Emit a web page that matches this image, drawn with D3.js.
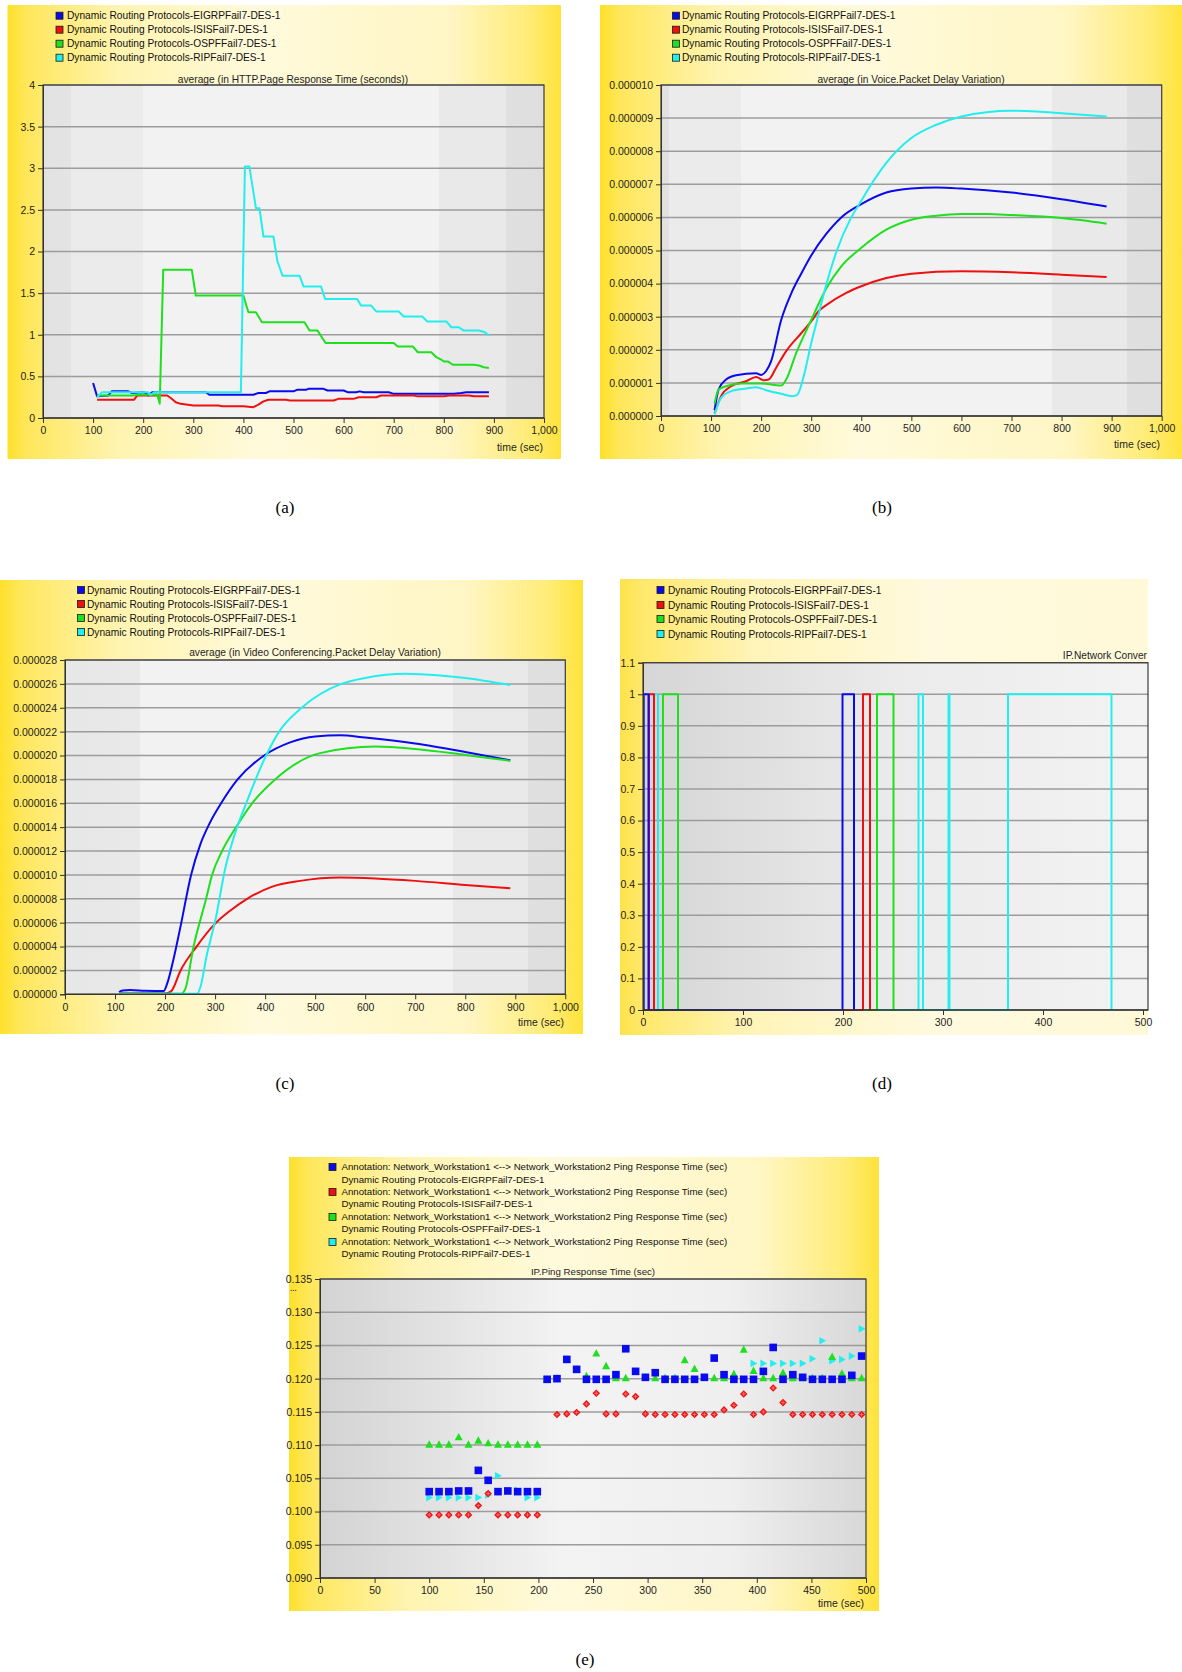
<!DOCTYPE html>
<html>
<head>
<meta charset="utf-8">
<script src="https://cdn.jsdelivr.net/npm/d3@7"></script>
<style>
body { margin: 0; background: #fff; }
text { font-family: "Liberation Sans", Arial, sans-serif; }
.caption { font-family: "Liberation Serif", "Times New Roman", serif; }
</style>
</head>
<body>
<svg id="fig" width="1182" height="1672"></svg>
<script>
// ---------- data ----------
var runNames = ["Dynamic Routing Protocols-EIGRPFail7-DES-1",
                "Dynamic Routing Protocols-ISISFail7-DES-1",
                "Dynamic Routing Protocols-OSPFFail7-DES-1",
                "Dynamic Routing Protocols-RIPFail7-DES-1"];
var pingLabel = "Annotation: Network_Workstation1 <--> Network_Workstation2 Ping Response Time (sec)";
var colors = ["#0a0aee", "#ee1010", "#1ee01e", "#22eeee"];

// (a) HTTP page response time (s)
var httpEigrp = [[100,0.42],[108,0.26],[130,0.27],[137,0.32],[170,0.32],[178,0.30],[200,0.31],[205,0.30],[210,0.27],[218,0.31],[325,0.31],[332,0.28],[420,0.28],[430,0.30],[445,0.30],[452,0.32],[500,0.32],[508,0.34],[525,0.34],[530,0.35],[560,0.35],[568,0.33],[600,0.33],[608,0.31],[625,0.31],[632,0.32],[640,0.31],[690,0.31],[700,0.29],[820,0.29],[835,0.30],[845,0.31],[890,0.31]];
var httpIsis = [[108,0.22],[182,0.22],[188,0.27],[248,0.27],[255,0.24],[265,0.19],[275,0.17],[300,0.15],[350,0.15],[358,0.14],[400,0.14],[420,0.13],[430,0.16],[440,0.20],[450,0.22],[485,0.22],[493,0.21],[580,0.21],[590,0.23],[620,0.23],[630,0.25],[665,0.25],[675,0.27],[740,0.27],[748,0.26],[800,0.26],[810,0.27],[850,0.27],[860,0.26],[890,0.26]];
var httpOspf = [[108,0.27],[180,0.27],[190,0.28],[228,0.28],[233,0.17],[240,1.78],[297,1.78],[305,1.47],[400,1.47],[410,1.27],[425,1.27],[437,1.15],[522,1.15],[532,1.05],[548,1.05],[564,0.90],[700,0.90],[708,0.86],[738,0.86],[748,0.79],[775,0.79],[785,0.73],[795,0.70],[800,0.68],[808,0.68],[818,0.64],[860,0.64],[870,0.63],[880,0.61],[890,0.60]];
var httpRip = [[108,0.25],[118,0.31],[210,0.31],[215,0.28],[222,0.31],[395,0.31],[403,3.02],[412,3.02],[425,2.52],[432,2.52],[440,2.18],[460,2.18],[468,1.88],[478,1.71],[512,1.71],[520,1.58],[555,1.58],[563,1.43],[627,1.43],[635,1.35],[655,1.35],[665,1.28],[710,1.28],[720,1.22],[757,1.22],[767,1.16],[805,1.16],[815,1.09],[830,1.09],[840,1.05],[870,1.05],[882,1.03],[890,0.99]];

// (b) voice packet delay variation (values in 1e-6)
var voiceEigrp = [[107,0.18],[115,0.8],[130,1.1],[150,1.23],[190,1.29],[200,1.24],[210,1.36],[220,1.66],[240,2.9],[260,3.7],[280,4.3],[300,4.85],[330,5.5],[360,6.0],[400,6.4],[450,6.75],[500,6.87],[550,6.9],[600,6.87],[700,6.75],[800,6.55],[890,6.33]];
var voiceIsis = [[107,0.08],[120,0.6],[140,0.9],[170,1.05],[190,1.18],[205,1.08],[215,1.1],[230,1.46],[250,1.96],[280,2.5],[300,2.86],[317,3.2],[330,3.35],[370,3.72],[400,3.92],[450,4.17],[500,4.3],[600,4.37],[700,4.34],[800,4.27],[890,4.2]];
var voiceOspf = [[107,0.38],[115,0.8],[130,0.9],[160,0.98],[200,0.98],[240,0.92],[250,1.1],[270,1.9],[300,2.9],[330,3.85],[360,4.52],[400,5.08],[450,5.63],[500,5.93],[550,6.05],[600,6.1],[650,6.1],[700,6.07],[800,5.98],[890,5.81]];
var voiceRip = [[107,0.05],[120,0.55],[140,0.75],[170,0.83],[190,0.87],[210,0.78],[240,0.67],[262,0.6],[272,0.64],[285,1.2],[300,2.2],[317,3.2],[327,3.8],[350,4.95],[380,6.0],[400,6.5],[420,7.0],[450,7.65],[500,8.4],[550,8.8],[600,9.05],[650,9.18],[700,9.22],[750,9.2],[800,9.15],[890,9.05]];

// (c) video conferencing packet delay variation (values in 1e-6)
var videoEigrp = [[108,0.17],[115,0.32],[130,0.36],[160,0.3],[197,0.27],[205,1.0],[215,2.6],[230,5.5],[252,10],[270,12.5],[290,14.4],[312,16],[345,18],[398,20],[450,21.1],[500,21.6],[550,21.7],[600,21.5],[700,21.0],[800,20.3],[890,19.6]];
var videoIsis = [[108,0.08],[200,0.08],[212,0.25],[231,2],[263,4],[302,6],[330,7],[364,8],[413,9],[470,9.5],[550,9.78],[620,9.7],[700,9.5],[800,9.16],[890,8.88]];
var videoOspf = [[108,0.05],[232,0.05],[240,0.4],[257,4],[282,8],[294,10],[314,12],[342,14],[374,16],[420,18],[510,20.2],[620,20.75],[700,20.55],[800,20.05],[890,19.55]];
var videoRip = [[108,0.05],[264,0.05],[272,0.8],[282,3],[302,6.5],[320,10.5],[340,13.5],[364,16.2],[402,20],[428,22],[473,24],[552,26],[600,26.5],[680,26.85],[750,26.7],[800,26.5],[890,25.9]];

// (d) IP network convergence activity (step changes)
var convEigrp = [[0,0],[0.7,1],[5.5,0],[199.5,1],[211,0],[212,0]];
var convIsis = [[0,0],[6,1],[11,0],[220,1],[227,0],[228,0]];
var convOspf = [[0,0],[20,1],[35,0],[234,1],[250.5,0],[252,0]];
var convRip = [[0,0],[11,1],[15,0],[275.5,1],[280,0],[305.5,1],[306.5,0],[365,1],[468.5,0],[470,0]];

// (e) IP ping response time (s)
var pingTimes = [100,109,118,127,136,145,154,163,172,181,190,199,208,217,226,235,244,253,262,271,280,289,298,307,316,325,334,343,352,361,370,379,388,397,406,415,424,433,442,451,460,469,478,487,496];
var pingEigrp = [0.1030,0.1030,0.1030,0.1031,0.1031,0.1062,0.1047,0.1030,0.1031,0.1030,0.1030,0.1030,
                 0.1199,0.1200,0.1229,0.1214,0.1199,0.1199,0.1199,0.1206,0.1245,0.1211,0.1202,0.1209,0.1199,0.1199,0.1199,0.1199,0.1202,0.1231,0.1206,0.1199,0.1199,0.1199,0.1211,0.1247,0.1199,0.1206,0.1202,0.1199,0.1199,0.1199,0.1199,0.1205,0.1234];
var pingIsis = [0.0995,0.0995,0.0995,0.0995,0.0995,0.1009,0.1027,0.0995,0.0995,0.0995,0.0995,0.0995,
                null,0.1146,0.1147,0.1149,0.1162,0.1178,0.1147,0.1147,0.1177,0.1173,0.1147,0.1146,0.1146,0.1146,0.1146,0.1146,0.1146,0.1146,0.1153,0.1160,0.1177,0.1146,0.1150,0.1186,0.1164,0.1146,0.1146,0.1146,0.1146,0.1146,0.1146,0.1146,0.1146];
var pingOspf = [0.1101,0.1101,0.1101,0.1112,0.1101,0.1107,0.1103,0.1101,0.1101,0.1101,0.1101,0.1101,
                0.1199,0.1200,0.1229,0.1214,0.1204,0.1238,0.1219,0.1201,0.1201,0.1211,0.1202,0.1201,0.1201,0.1201,0.1228,0.1215,0.1202,0.1201,0.1201,0.1207,0.1244,0.1212,0.1201,0.1201,0.1209,0.1201,0.1201,0.1201,0.1201,0.1233,0.1208,0.1201,0.1201];
var pingRip = [0.1021,0.1021,0.1021,0.1021,0.1021,0.1021,0.1025,0.1054,0.1031,0.1032,0.1021,0.1021,
               0.1199,0.1200,0.1229,0.1214,0.1199,0.1199,0.1199,0.1206,0.1245,0.1211,0.1202,0.1209,0.1199,0.1199,0.1199,0.1199,0.1202,0.1231,0.1206,0.1199,0.1199,0.1223,0.1223,0.1223,0.1223,0.1223,0.1223,0.1230,0.1257,0.1227,0.1229,0.1234,0.1275];

var captions = ["(a)", "(b)", "(c)", "(d)", "(e)"];

// ---------- drawing ----------
var svg = d3.select("#fig");
var defs = svg.append("defs");

function grad(id, stops) {
  var lg = defs.append("linearGradient").attr("id", id)
      .attr("x1", 0).attr("x2", 1).attr("y1", 0).attr("y2", 0);
  stops.forEach(function(s) {
    lg.append("stop").attr("offset", s[0]).attr("stop-color", s[1]);
  });
}

grad("yel", [[0,"#ffe02a"],[0.035,"#ffe75c"],[0.2,"#fff4b0"],[0.45,"#fffadc"],[0.8,"#fff6c4"],[0.94,"#ffec78"],[1,"#ffe33a"]]);
grad("yelD", [[0,"#ffe24a"],[0.04,"#ffe86a"],[0.25,"#fff4b8"],[0.6,"#fffadf"],[1,"#fff9d8"]]);
grad("bandA", [[0,"#e2e2e2"],[0.055,"#e4e4e4"],[0.055,"#ebebeb"],[0.2,"#ebebeb"],[0.2,"#f2f2f2"],[0.79,"#f2f2f2"],[0.79,"#e9e9e9"],[0.925,"#e9e9e9"],[0.925,"#e0e0e0"],[1,"#dedede"]]);
grad("bandB", [[0,"#e0e0e0"],[0.015,"#e2e2e2"],[0.015,"#ebebeb"],[0.16,"#ebebeb"],[0.16,"#f2f2f2"],[0.78,"#f2f2f2"],[0.78,"#e9e9e9"],[0.93,"#e9e9e9"],[0.93,"#e0e0e0"],[1,"#dedede"]]);
grad("bandC", [[0,"#e7e7e7"],[0.15,"#e9e9e9"],[0.15,"#f2f2f2"],[0.775,"#f2f2f2"],[0.775,"#e9e9e9"],[0.925,"#e9e9e9"],[0.925,"#e0e0e0"],[1,"#dedede"]]);
grad("bandD", [[0,"#d6d6d6"],[0.5,"#ebebeb"],[1,"#f3f3f3"]]);
grad("bandE", [[0,"#d3d3d3"],[0.45,"#f3f3f3"],[0.75,"#efefef"],[1,"#d8d8d8"]]);

function panel(o) {
  var g = svg.append("g");
  var fs = o.fontSize || "10.2px";
  g.append("rect").attr("x", o.bx).attr("y", o.by).attr("width", o.bw).attr("height", o.bh)
      .attr("fill", "url(#" + o.bg + ")");

  var x = d3.scaleLinear().domain(o.xd).range([o.x0, o.x1]);
  var y = d3.scaleLinear().domain(o.yd).range([o.y1, o.y0]);
  var right = o.pr || o.x1;

  g.append("rect").attr("x", o.x0).attr("y", o.y0).attr("width", right - o.x0).attr("height", o.y1 - o.y0)
      .attr("fill", "url(#" + o.band + ")");

  // horizontal grid
  g.append("g").selectAll("line").data(o.yt).enter().append("line")
      .attr("x1", o.x0).attr("x2", right)
      .attr("y1", function(d) { return y(d); }).attr("y2", function(d) { return y(d); })
      .attr("stroke", "#9c9c9c").attr("stroke-width", 1.5);

  var clipId = "clip" + o.id;
  defs.append("clipPath").attr("id", clipId).append("rect")
      .attr("x", o.x0).attr("y", o.y0 - 4).attr("width", right - o.x0).attr("height", o.y1 - o.y0 + 6);

  var plot = g.append("g").attr("clip-path", "url(#" + clipId + ")");
  if (o.draw) o.draw(plot, x, y);

  // frame
  g.append("rect").attr("x", o.x0).attr("y", o.y0).attr("width", right - o.x0).attr("height", o.y1 - o.y0)
      .attr("fill", "none").attr("stroke", "#3a3a3a").attr("stroke-width", 1.2);

  var ax = g.append("g").attr("transform", "translate(0," + o.y1 + ")")
      .call(d3.axisBottom(x).tickValues(o.xt).tickFormat(o.xf).tickSize(5).tickPadding(4));
  var ay = g.append("g").attr("transform", "translate(" + o.x0 + ",0)")
      .call(d3.axisLeft(y).tickValues(o.yt).tickFormat(o.yf).tickSize(5).tickPadding(3));
  [ax, ay].forEach(function(a) {
    a.select(".domain").attr("stroke", "#333");
    a.selectAll(".tick line").attr("stroke", "#333");
    a.selectAll("text").attr("fill", "#1e1e1e").style("font-size", "10.5px")
        .style("font-family", '"Liberation Sans", Arial, sans-serif');
  });
  ax.select(".domain").attr("d", "M" + o.x0 + ",0H" + right);

  if (o.timeLabel) {
    g.append("text").attr("x", o.timeLabel[0]).attr("y", o.timeLabel[1]).attr("dy", "0.35em")
        .attr("text-anchor", "end").style("font-size", "10.5px").attr("fill", "#1e1e1e").text("time (sec)");
  }

  // title
  g.append("text")
      .attr("x", o.title[1]).attr("y", o.title[2]).attr("dy", "0.35em")
      .attr("text-anchor", o.title[3] || "middle")
      .style("font-size", fs).attr("fill", "#1e1e1e").text(o.title[0]);

  // legend
  var lg = g.append("g");
  o.legend.forEach(function(row, i) {
    var cy = o.legendY[i];
    if (row.color) {
      lg.append("rect").attr("x", o.legendX).attr("y", cy - 3.5).attr("width", 7).attr("height", 7)
          .attr("fill", row.color).attr("stroke", "#1a1a1a").attr("stroke-width", 0.8);
    }
    lg.append("text").attr("x", o.legendTx).attr("y", cy).attr("dy", "0.35em")
        .style("font-size", fs).attr("fill", "#111").text(row.text);
  });
}

function drawLines(list, curve) {
  return function(plot, x, y) {
    var line = d3.line().curve(curve)
        .x(function(d) { return x(d[0]); })
        .y(function(d) { return y(d[1]); });
    list.forEach(function(s) {
      plot.append("path").datum(s.data).attr("d", line)
          .attr("fill", "none").attr("stroke", s.color).attr("stroke-width", 2)
          .attr("stroke-linejoin", "round");
    });
  };
}

var runLegend = runNames.map(function(n, i) { return {text: n, color: colors[i]}; });
var legY1 = [15.7, 29.7, 43.7, 57.7];
var micro = function(d) { return d3.format(".6f")(d * 1e-6); };

// (a)
panel({
  id: "a", bx: 7.5, by: 5, bw: 553.5, bh: 454, bg: "yel", band: "bandA",
  x0: 43, x1: 544, y0: 85, y1: 418, xd: [0, 1000], yd: [0, 4],
  xt: d3.range(0, 1001, 100), xf: d3.format(","), yt: [0,0.5,1,1.5,2,2.5,3,3.5,4], yf: function(d) { return String(d); },
  timeLabel: [543, 447],
  title: ["average (in HTTP.Page Response Time (seconds))", 293, 79],
  legend: runLegend, legendX: 56, legendTx: 67, legendY: legY1,
  draw: drawLines([
    {data: httpEigrp, color: colors[0]}, {data: httpIsis, color: colors[1]},
    {data: httpOspf, color: colors[2]}, {data: httpRip, color: colors[3]}], d3.curveLinear)
});

// (b)
panel({
  id: "b", bx: 600, by: 5, bw: 582, bh: 454, bg: "yel", band: "bandB",
  x0: 661, x1: 1161.7, y0: 85, y1: 416, xd: [0, 1000], yd: [0, 10],
  xt: d3.range(0, 1001, 100), xf: d3.format(","), yt: d3.range(0, 11, 1), yf: micro,
  timeLabel: [1160, 444],
  title: ["average (in Voice.Packet Delay Variation)", 911, 79],
  legend: runLegend, legendX: 672.5, legendTx: 682, legendY: legY1,
  draw: drawLines([
    {data: voiceEigrp, color: colors[0]}, {data: voiceIsis, color: colors[1]},
    {data: voiceOspf, color: colors[2]}, {data: voiceRip, color: colors[3]}], d3.curveMonotoneX)
});

// (c)
panel({
  id: "c", bx: 0, by: 580, bw: 583, bh: 454, bg: "yel", band: "bandC",
  x0: 65, x1: 565.3, y0: 660, y1: 994.3, xd: [0, 1000], yd: [0, 28],
  xt: d3.range(0, 1001, 100), xf: d3.format(","), yt: d3.range(0, 29, 2), yf: micro,
  timeLabel: [564, 1022],
  title: ["average (in Video Conferencing.Packet Delay Variation)", 315, 652],
  legend: runLegend, legendX: 77.5, legendTx: 87, legendY: [590, 604, 618, 632],
  draw: drawLines([
    {data: videoEigrp, color: colors[0]}, {data: videoIsis, color: colors[1]},
    {data: videoOspf, color: colors[2]}, {data: videoRip, color: colors[3]}], d3.curveMonotoneX)
});

// (d) - title is cut by the panel edge in the original, only its visible part is shown
panel({
  id: "d", bx: 620, by: 579, bw: 528, bh: 456, bg: "yelD", band: "bandD",
  x0: 643, x1: 1143, pr: 1148, y0: 662.7, y1: 1010, xd: [0, 500], yd: [0, 1.1],
  xt: d3.range(0, 501, 100), xf: d3.format("d"), yt: d3.range(0, 12).map(function(i) { return i / 10; }),
  yf: function(d) { return String(d); },
  title: ["IP.Network Conver", 1147, 655, "end"],
  legend: runLegend, legendX: 657, legendTx: 668, legendY: [590, 605, 619, 634],
  draw: drawLines([
    {data: convRip, color: colors[3]}, {data: convOspf, color: colors[2]},
    {data: convIsis, color: colors[1]}, {data: convEigrp, color: colors[0]}], d3.curveStepAfter)
});

// (e)
var pingLegend = [];
runNames.forEach(function(n, i) {
  pingLegend.push({text: pingLabel, color: colors[i]});
  pingLegend.push({text: n});
});
panel({
  id: "e", bx: 289, by: 1157, bw: 590, bh: 454, bg: "yel", band: "bandE", fontSize: "9.7px",
  x0: 320, x1: 866, y0: 1279, y1: 1578, xd: [0, 500], yd: [0.090, 0.135],
  xt: d3.range(0, 501, 50), xf: d3.format("d"),
  yt: d3.range(0, 10).map(function(i) { return 0.090 + i * 0.005; }), yf: d3.format(".3f"),
  timeLabel: [864, 1603],
  title: ["IP.Ping Response Time (sec)", 593, 1272],
  legend: pingLegend, legendX: 329, legendTx: 341.5, legendY: [1167, 1180, 1192, 1204, 1217, 1229, 1242, 1254],
  draw: function(plot, x, y) {
    function pts(vals) {
      return vals.map(function(v, i) { return [pingTimes[i], v]; }).filter(function(d) { return d[1] != null; });
    }
    // cyan right-pointing triangles
    plot.append("g").selectAll("path").data(pts(pingRip)).enter().append("path")
        .attr("d", function(d) { var cx = x(d[0]), cy = y(d[1]);
          return "M" + (cx - 3) + "," + (cy - 3.8) + "L" + (cx + 3.8) + "," + cy + "L" + (cx - 3) + "," + (cy + 3.8) + "Z"; })
        .attr("fill", colors[3]);
    // green triangles
    plot.append("g").selectAll("path").data(pts(pingOspf)).enter().append("path")
        .attr("d", function(d) { var cx = x(d[0]), cy = y(d[1]);
          return "M" + cx + "," + (cy - 4.2) + "L" + (cx + 4) + "," + (cy + 3.2) + "L" + (cx - 4) + "," + (cy + 3.2) + "Z"; })
        .attr("fill", colors[2]);
    // red diamonds
    var red = plot.append("g").selectAll("g").data(pts(pingIsis)).enter().append("g")
        .attr("transform", function(d) { return "translate(" + x(d[0]) + "," + y(d[1]) + ")"; });
    red.append("path").attr("d", "M0,-3.8L3.8,0L0,3.8L-3.8,0Z").attr("fill", colors[1]);
    red.append("path").attr("d", "M-2,0H2M0,-2V2").attr("stroke", "#ff8080").attr("stroke-width", 0.8);
    // blue squares
    plot.append("g").selectAll("rect").data(pts(pingEigrp)).enter().append("rect")
        .attr("x", function(d) { return x(d[0]) - 3.8; })
        .attr("y", function(d) { return y(d[1]) - 3.8; })
        .attr("width", 7.6).attr("height", 7.6).attr("fill", colors[0]);
  }
});
svg.append("text").attr("x", 290).attr("y", 1291).style("font-size", "8px").style("font-weight", "bold")
    .attr("fill", "#444").text("...");

// captions
var capPos = [[285, 507], [882, 507], [285, 1083], [882, 1083], [585, 1659]];
captions.forEach(function(c, i) {
  svg.append("text").attr("class", "caption").attr("x", capPos[i][0]).attr("y", capPos[i][1])
      .attr("dy", "0.35em").attr("text-anchor", "middle").style("font-size", "17px").attr("fill", "#000").text(c);
});
</script>
</body>
</html>
